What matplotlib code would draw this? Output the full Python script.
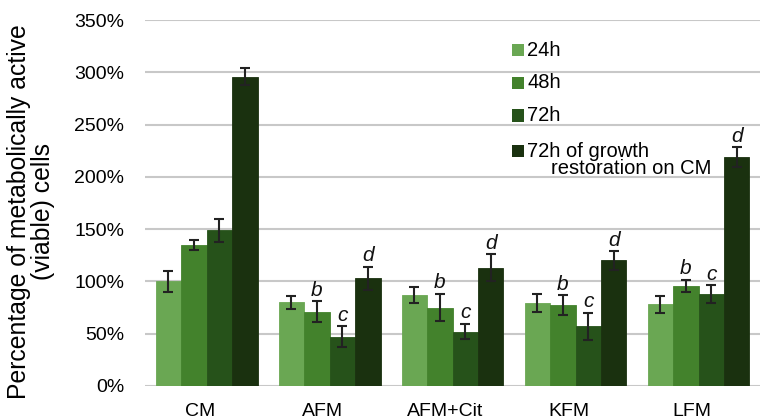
import numpy as np
import matplotlib.pyplot as plt
import matplotlib.transforms as mtransforms
from matplotlib.patches import Rectangle

plt.rcParams['font.family'] = ['Liberation Sans', 'DejaVu Sans']

groups = ['CM', 'AFM', 'AFM+Cit', 'KFM', 'LFM']
series = ['24h', '48h', '72h', '72h of growth']
colors = ['#6aa753', '#43822c', '#26521a', '#1a310f']

# mean viability (%) per group, one list per time point
v24 = [100, 80, 87, 79, 78]
v48 = [135, 71, 75, 77, 96]
v72 = [149, 47, 52, 57, 88]
vrest = [296, 103, 113, 120, 219]

e24 = [10, 6, 7.5, 8.5, 8.3]
e48 = [5, 10, 13, 9.5, 5.7]
e72 = [11, 10, 7.6, 12.8, 8.3]
erest = [8, 11, 13, 9, 9.5]

# significance letters above 48h, 72h and restoration bars
letters = ['b', 'c', 'd']

values = [v24, v48, v72, vrest]
errors = [e24, e48, e72, erest]

W, H = 760, 419
fig = plt.figure(figsize=(W / 100, H / 100), dpi=100)
ax = fig.add_axes([0.191, 0.079, 0.809, 0.873])

x = np.arange(len(groups))
w = 0.207
offsets = (np.arange(4) - 1.5) * w

for i in range(4):
    ax.bar(x + offsets[i], values[i], w, color=colors[i], edgecolor=colors[i],
           linewidth=0.6, zorder=2)
    ax.errorbar(x + offsets[i], values[i], yerr=errors[i], fmt='none',
                ecolor='#222222', elinewidth=1.5, capsize=3.5, capthick=1.5, zorder=3)

for j in range(1, len(groups)):
    for k, i in enumerate([1, 2, 3]):
        ax.text(x[j] + offsets[i], values[i][j] + errors[i][j] + 1.5, letters[k],
                ha='center', va='bottom', fontsize=15, style='italic', color='#111111')

ax.set_ylim(0, 350)
ax.set_xlim(-0.5, 4.5)
ax.set_yticks(np.arange(0, 351, 50))
ax.set_yticklabels([f'{t}%' for t in range(0, 351, 50)], fontsize=14)
ax.set_xticks(x)
ax.set_xticklabels(groups, fontsize=14)
ax.tick_params(axis='y', length=0, pad=15)
ax.tick_params(axis='x', length=0, pad=12.5)
shift = mtransforms.ScaledTranslation(-7 / 100, 0, fig.dpi_scale_trans)
for lab in ax.get_xticklabels():
    lab.set_transform(lab.get_transform() + shift)
ax.yaxis.grid(True, color='#c8c8c8', linewidth=1.5, zorder=0)
ax.set_axisbelow(True)
for s in ax.spines.values():
    s.set_visible(False)

ax.set_ylabel('Percentage of metabolically active\n(viable) cells', fontsize=17.8,
              linespacing=1.0)
ax.yaxis.set_label_coords(-0.146, 0.477)

# legend: coloured squares with labels, laid out in pixel positions
rows_y = [50, 83, 115.5, 151]
for c, lab, yy in zip(colors, series, rows_y):
    fig.patches.append(Rectangle((512 / W, 1 - (yy + 6) / H), 12 / W, 12 / H,
                                 transform=fig.transFigure, facecolor=c,
                                 edgecolor='none'))
    fig.text(527 / W, 1 - yy / H, lab, fontsize=14.5, va='center', ha='left')
fig.text(551 / W, 1 - 168 / H, 'restoration on CM', fontsize=14.5,
         va='center', ha='left')

fig.savefig('out.png', dpi=100)
